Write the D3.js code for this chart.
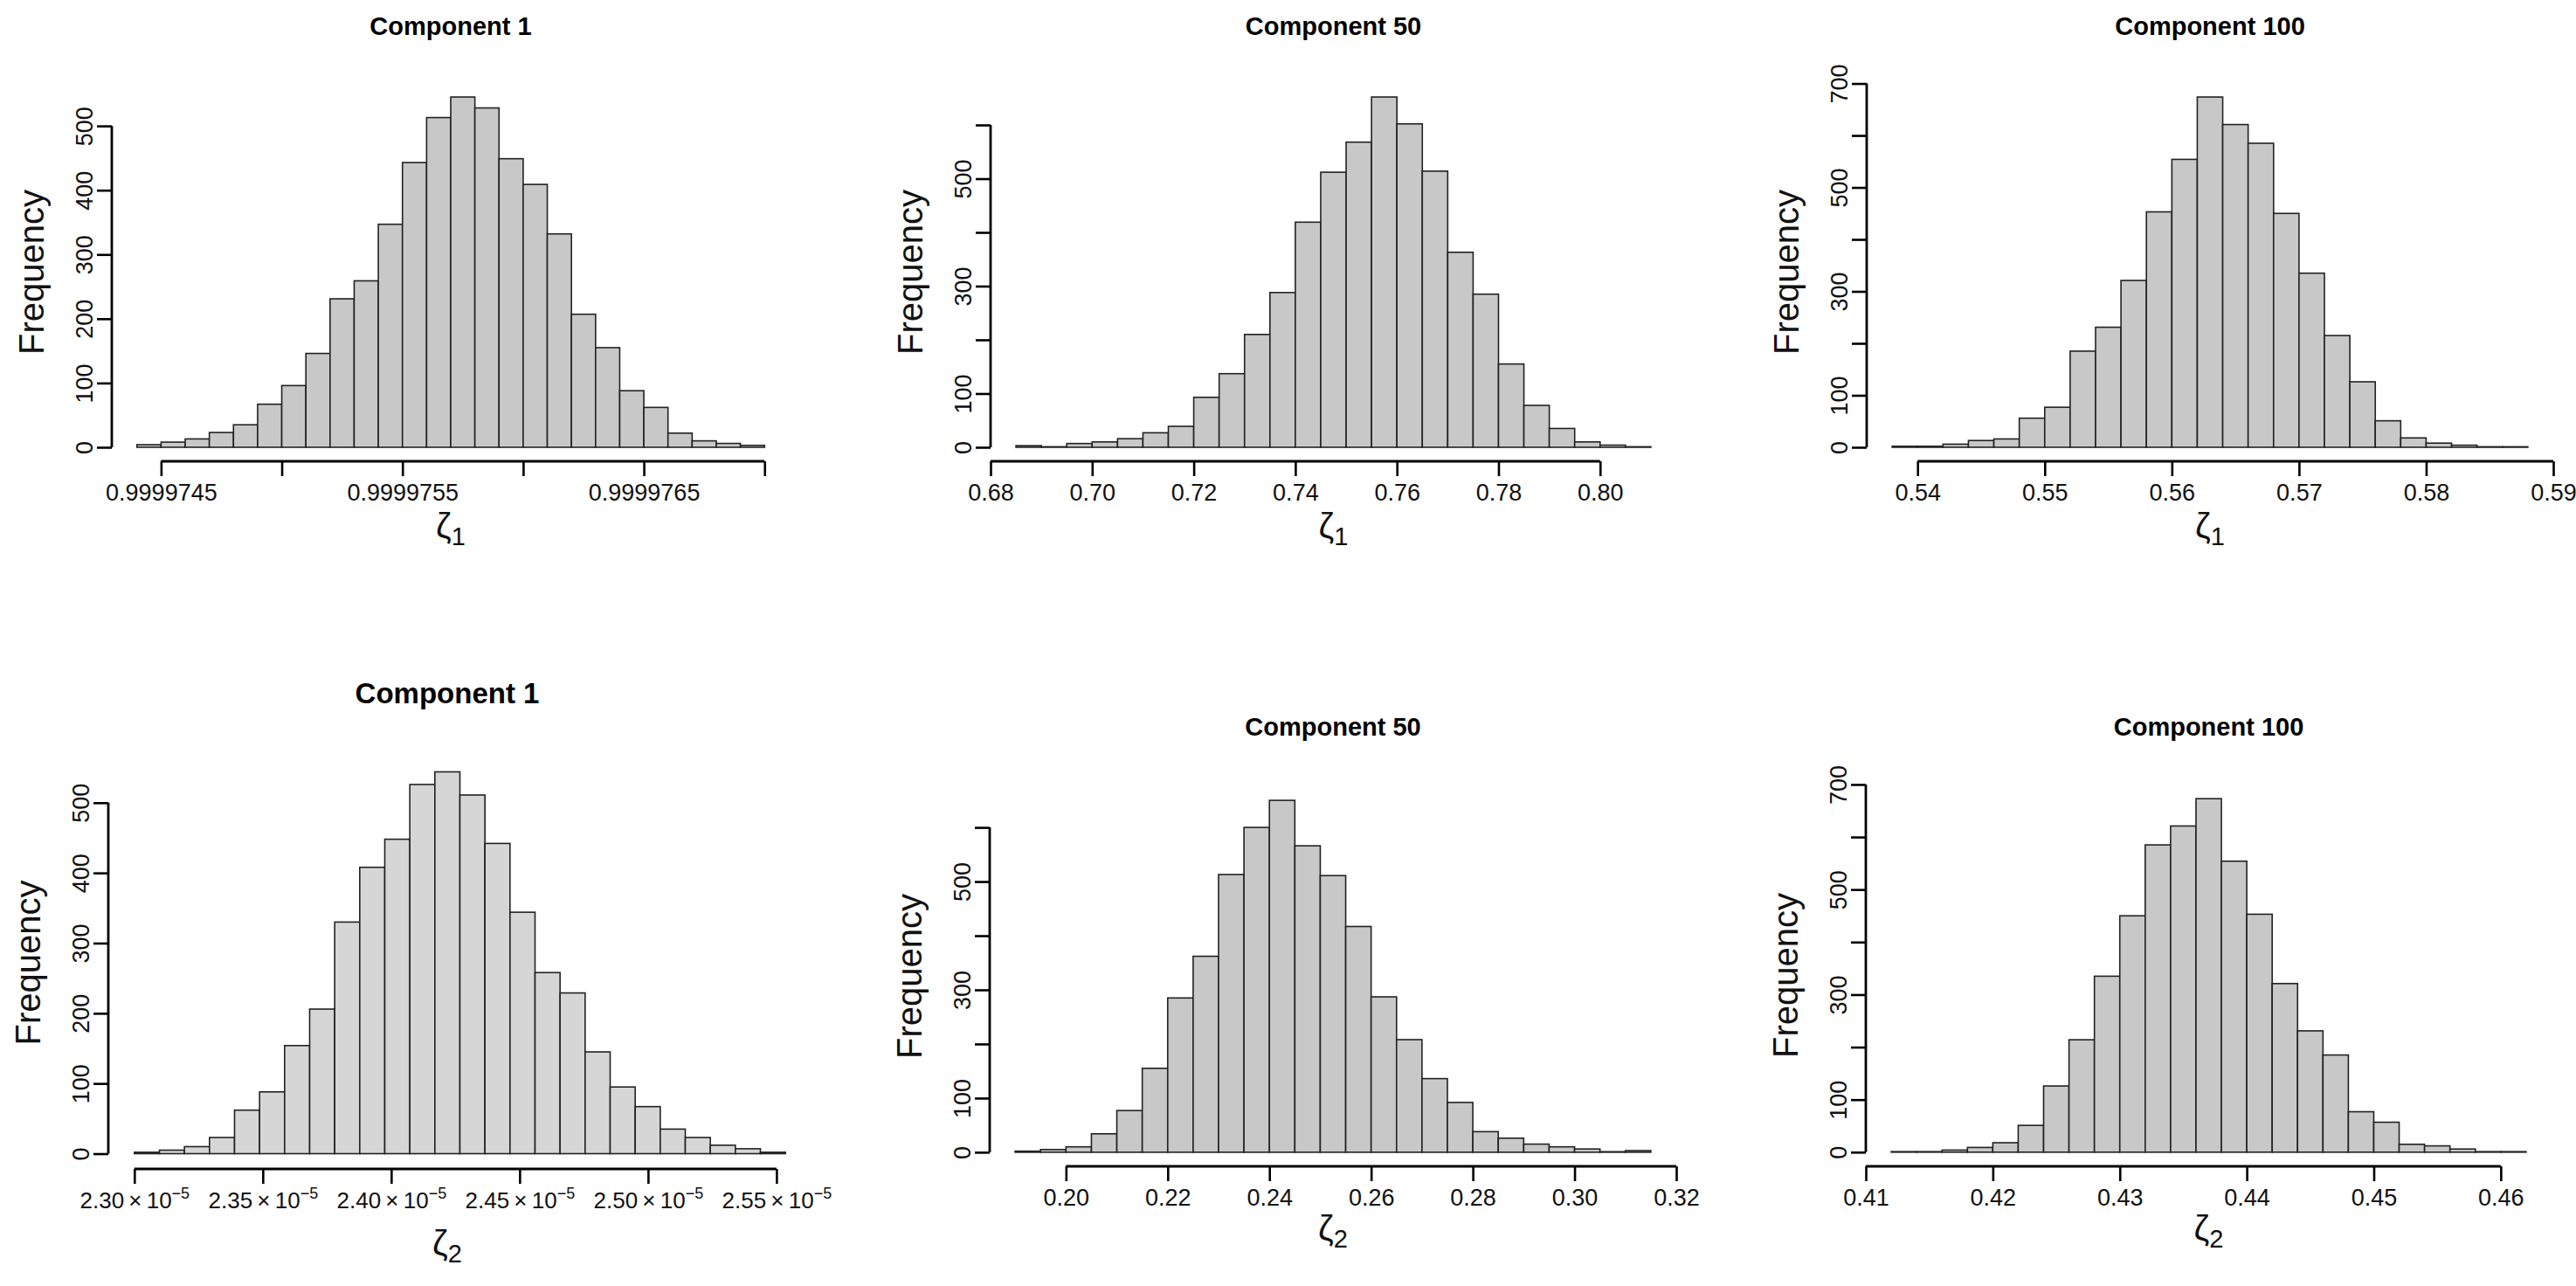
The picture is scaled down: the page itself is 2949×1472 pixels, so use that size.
<!DOCTYPE html>
<html>
<head>
<meta charset="utf-8">
<script src="https://cdn.jsdelivr.net/npm/d3@7"></script>
<style>
  body { margin: 0; background: #fff; }
  svg { display: block; font-family: "Liberation Sans", Arial, sans-serif; }
</style>
</head>
<body>
<svg id="chart" width="2949" height="1472"></svg>
<script>
// histogram counts (one bar per entry)
const zeta1Comp1 = [4, 8, 13, 23, 35, 67, 96, 146, 231, 259, 347, 443, 513, 545, 528, 449, 409, 332, 207, 155, 88, 62, 22, 10, 6, 3];
const zeta1Comp50 = [3, 1, 7, 10, 16, 27, 39, 93, 137, 210, 288, 419, 512, 568, 652, 602, 514, 363, 285, 155, 78, 35, 10, 4, 1];
const zeta1Comp100 = [2, 2, 6, 13, 16, 56, 77, 185, 231, 321, 453, 554, 674, 621, 585, 450, 335, 215, 126, 51, 18, 8, 4, 1, 1];
const zeta2Comp1 = [2, 5, 10, 23, 62, 88, 154, 206, 330, 408, 448, 526, 544, 511, 442, 344, 258, 229, 145, 95, 67, 35, 23, 12, 7, 2];
const zeta2Comp50 = [2, 5, 10, 34, 77, 155, 285, 362, 513, 600, 650, 566, 511, 417, 287, 208, 136, 92, 38, 26, 15, 10, 6, 1, 3];
const zeta2Comp100 = [1, 1, 4, 9, 18, 51, 126, 214, 335, 450, 585, 621, 673, 554, 453, 321, 231, 185, 77, 57, 15, 12, 6, 1, 1];

// first break and bin width of each histogram
const binStart = [0.9999744, 0.685, 0.538, 2.30e-5, 0.19, 0.412];
const binWidth = [0.0000001, 0.005, 0.002, 0.00975e-5, 0.005, 0.002];

const titles = ["Component 1", "Component 50", "Component 100", "Component 1", "Component 50", "Component 100"];
const xLabelSub = ["1", "1", "1", "2", "2", "2"];

// x axis ticks and their labels (null = tick without label)
const xTicks1 = [0.9999745, 0.999975, 0.9999755, 0.999976, 0.9999765, 0.999977];
const xLabels1 = ["0.9999745", null, "0.9999755", null, "0.9999765", null];
const xTicks50 = [0.68, 0.70, 0.72, 0.74, 0.76, 0.78, 0.80];
const xLabels50 = ["0.68", "0.70", "0.72", "0.74", "0.76", "0.78", "0.80"];
const xTicks100 = [0.54, 0.55, 0.56, 0.57, 0.58, 0.59];
const xLabels100 = ["0.54", "0.55", "0.56", "0.57", "0.58", "0.59"];
const xTicks2c1 = [2.30e-5, 2.35e-5, 2.40e-5, 2.45e-5, 2.50e-5, 2.55e-5];
const xLabels2c1 = ["2.30", "2.35", "2.40", "2.45", "2.50", "2.55"];
const xTicks2c50 = [0.20, 0.22, 0.24, 0.26, 0.28, 0.30, 0.32];
const xLabels2c50 = ["0.20", "0.22", "0.24", "0.26", "0.28", "0.30", "0.32"];
const xTicks2c100 = [0.41, 0.42, 0.43, 0.44, 0.45, 0.46];
const xLabels2c100 = ["0.41", "0.42", "0.43", "0.44", "0.45", "0.46"];

// y axis ticks and labels
const yTicks500 = [0, 100, 200, 300, 400, 500];
const yLabels500 = ["0", "100", "200", "300", "400", "500"];
const yTicks600 = [0, 100, 200, 300, 400, 500, 600];
const yLabels600 = ["0", "100", null, "300", null, "500", null];
const yTicks700 = [0, 100, 200, 300, 400, 500, 600, 700];
const yLabels700 = ["0", "100", null, "300", null, "500", null, "700"];

const counts = [zeta1Comp1, zeta1Comp50, zeta1Comp100, zeta2Comp1, zeta2Comp50, zeta2Comp100];
const xTicks = [xTicks1, xTicks50, xTicks100, xTicks2c1, xTicks2c50, xTicks2c100];
const xLabels = [xLabels1, xLabels50, xLabels100, xLabels2c1, xLabels2c50, xLabels2c100];
const yTicks = [yTicks500, yTicks600, yTicks700, yTicks500, yTicks600, yTicks700];
const yLabels = [yLabels500, yLabels600, yLabels700, yLabels500, yLabels600, yLabels700];

// plot regions in pixels (layout only)
const boxes = [
    { left: 128, right: 904, top: 95, bottom: 528, titleY: 40, titleSize: 29, labY: 616, tickLab: 27, fill: "#c8c8c8" },
    { left: 1134, right: 1919, top: 95, bottom: 528, titleY: 40, titleSize: 29, labY: 616, tickLab: 27, fill: "#c8c8c8" },
    { left: 2137, right: 2923, top: 95, bottom: 528, titleY: 40, titleSize: 29, labY: 616, tickLab: 27, fill: "#c8c8c8" },
    { left: 124, right: 929, top: 866, bottom: 1338, titleY: 805, titleSize: 33, labY: 1437, tickLab: 26, fill: "#d6d6d6", cx: 512 },
    { left: 1133, right: 1919, top: 900, bottom: 1335, titleY: 842, titleSize: 29, labY: 1420, tickLab: 27, fill: "#c8c8c8" },
    { left: 2136, right: 2921, top: 898, bottom: 1335, titleY: 842, titleSize: 29, labY: 1420, tickLab: 27, fill: "#c8c8c8" }
];

const svg = d3.select('#chart');
svg.append('rect').attr('width', 2949).attr('height', 1472).attr('fill', '#fff');

counts.forEach((data, p) => {
    const box = boxes[p];
    const start = binStart[p];
    const w = binWidth[p];
    const n = data.length;
    const end = start + n * w;

    // R style ranges: 4% padding on each side
    const xPad = 0.04 * (end - start);
    const maxCount = d3.max(data);
    const x = d3.scaleLinear().domain([start - xPad, end + xPad]).range([box.left, box.right]);
    const y = d3.scaleLinear().domain([-0.04 * maxCount, 1.04 * maxCount]).range([box.bottom, box.top]);

    const g = svg.append('g');

    // bars
    g.append('g')
        .selectAll('rect')
        .data(data)
        .enter().append('rect')
        .attr('x', (d, i) => x(start + i * w))
        .attr('width', (d, i) => x(start + (i + 1) * w) - x(start + i * w))
        .attr('y', d => y(d))
        .attr('height', d => y(0) - y(d))
        .attr('fill', box.fill)
        .attr('stroke', '#222')
        .attr('stroke-width', 1.6);

    // x axis
    const xt = xTicks[p];
    const xl = xLabels[p];
    const xAxis = d3.axisBottom(x)
        .tickValues(xt)
        .tickSize(17)
        .tickFormat((d, i) => xl[i] === null ? '' : xl[i]);
    const gx = g.append('g')
        .attr('transform', `translate(0,${box.bottom})`)
        .call(xAxis);
    gx.select('.domain').remove();
    gx.selectAll('.tick line').attr('stroke', '#000').attr('stroke-width', 2.6);
    gx.append('line')
        .attr('x1', x(xt[0])).attr('x2', x(xt[xt.length - 1]))
        .attr('stroke', '#000').attr('stroke-width', 2.8);
    gx.selectAll('.tick text')
        .attr('y', 45).attr('dy', 0)
        .attr('fill', '#111')
        .attr('font-size', box.tickLab)
        .attr('font-family', '"Liberation Sans", Arial, sans-serif');

    // the ζ2 component 1 axis is in scientific notation
    if (p === 3) {
        gx.selectAll('.tick text').each(function (d, i) {
            const t = d3.select(this);
            t.text(null);
            t.append('tspan').text(xl[i] + '\u2009\u00d7\u200910');
            t.append('tspan').attr('dy', -11).attr('font-size', 18).text('\u22125');
        });
    }

    // y axis
    const yt = yTicks[p];
    const yl = yLabels[p];
    const yAxis = d3.axisLeft(y)
        .tickValues(yt)
        .tickSize(17)
        .tickFormat((d, i) => yl[i] === null ? '' : yl[i]);
    const gy = g.append('g')
        .attr('transform', `translate(${box.left},0)`)
        .call(yAxis);
    gy.select('.domain').remove();
    gy.selectAll('.tick line').attr('stroke', '#000').attr('stroke-width', 2.6);
    gy.append('line')
        .attr('y1', y(yt[0])).attr('y2', y(yt[yt.length - 1]))
        .attr('stroke', '#000').attr('stroke-width', 2.8);
    gy.selectAll('.tick text')
        .attr('transform', 'rotate(-90)')
        .attr('x', 0).attr('y', -22).attr('dy', 0)
        .attr('text-anchor', 'middle')
        .attr('fill', '#111')
        .attr('font-size', 27)
        .attr('font-family', '"Liberation Sans", Arial, sans-serif');

    const cx = box.cx || (box.left + box.right) / 2;

    // title
    g.append('text')
        .attr('x', cx).attr('y', box.titleY)
        .attr('text-anchor', 'middle')
        .attr('font-weight', 'bold')
        .attr('font-size', box.titleSize)
        .attr('fill', '#000')
        .text(titles[p]);

    // Frequency label
    g.append('text')
        .attr('transform', `translate(${box.left - 78},${(box.top + box.bottom) / 2}) rotate(-90)`)
        .attr('text-anchor', 'middle')
        .attr('font-size', 40)
        .attr('fill', '#111')
        .text('Frequency');

    // ζ label with subscript
    const lab = g.append('text')
        .attr('x', cx).attr('y', box.labY)
        .attr('text-anchor', 'middle')
        .attr('font-size', 40)
        .attr('fill', '#111');
    lab.append('tspan').text('\u03b6');
    lab.append('tspan').attr('dy', 8).attr('font-size', 29).text(xLabelSub[p]);
});
</script>
</body>
</html>
